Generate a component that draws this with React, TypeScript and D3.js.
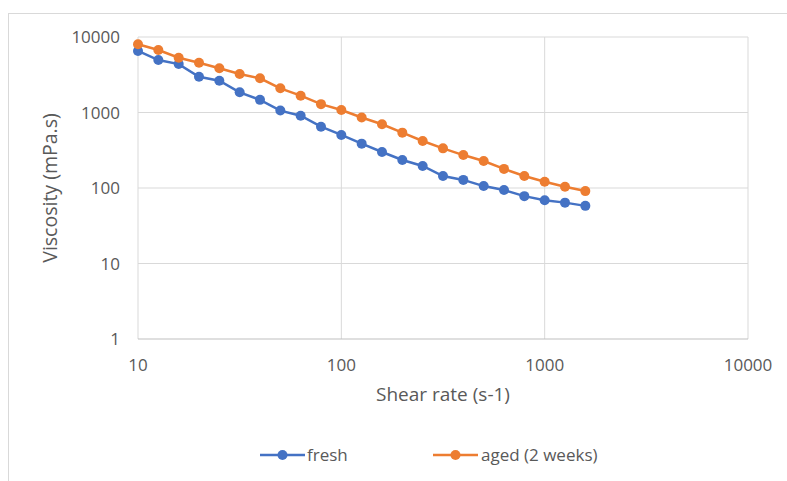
import React from "react";
import * as d3 from "d3";

const shearRate: number[] = [10, 12.59, 15.85, 19.95, 25.12, 31.62, 39.81, 50.12, 63.1, 79.43, 100, 125.9, 158.5, 199.5, 251.2, 316.2, 398.1, 501.2, 631, 794.3, 1000, 1259, 1585];
const fresh: number[] = [6530, 4950, 4380, 2980, 2640, 1850, 1470, 1060, 907, 649, 504, 387, 300, 235, 196, 144, 128, 106, 94, 78, 69, 64, 58];
const aged: number[] = [8000, 6730, 5320, 4570, 3850, 3230, 2840, 2090, 1670, 1290, 1080, 858, 698, 541, 419, 335, 273, 228, 179, 144, 121, 104, 91];
const xTicks: number[] = [10, 100, 1000, 10000];
const yTicks: number[] = [1, 10, 100, 1000, 10000];
const seriesNames: string[] = ["fresh", "aged (2 weeks)"];
const seriesColors: string[] = ["#4472C4", "#ED7D31"];

export default function App() {
  const W = 787, H = 481;
  const left = 138, right = 748, top = 37, bottom = 339;
  const x = d3.scaleLog().domain([10, 10000]).range([left, right]);
  const y = d3.scaleLog().domain([1, 10000]).range([bottom, top]);
  const line = d3.line<[number, number]>().x(d => x(d[0])).y(d => y(d[1]));
  const series = [fresh, aged];
  const font = "'Open Sans', sans-serif";
  const legendItems = [
    { x0: 260, tx: 307 },
    { x0: 433, tx: 481 },
  ];
  return (
    <svg width={W} height={H} style={{ position: "absolute", left: 0, top: 0 }} fontFamily={font}>
      <rect x={0} y={0} width={W} height={H} fill="#fff" />
      <rect x={8.5} y={13.5} width={800} height={600} fill="none" stroke="#d9d9d9" />
      {xTicks.map(t => (
        <line key={"gx" + t} x1={x(t)} x2={x(t)} y1={top} y2={bottom} stroke="#d9d9d9" strokeWidth={1} />
      ))}
      {yTicks.map(t => (
        <line key={"gy" + t} x1={left} x2={right} y1={y(t)} y2={y(t)} stroke={t === 1 ? "#bfbfbf" : "#d9d9d9"} strokeWidth={1} />
      ))}
      {xTicks.map(t => (
        <text key={"tx" + t} x={x(t)} y={bottom + 32} textAnchor="middle" fontSize={17} fill="#595959">{t}</text>
      ))}
      {yTicks.map(t => (
        <text key={"ty" + t} x={left - 18} y={y(t) + 6} textAnchor="end" fontSize={17} fill="#595959">{t}</text>
      ))}
      <text x={443} y={401} textAnchor="middle" fontSize={19} fill="#595959">Shear rate (s-1)</text>
      <text transform={`translate(57,188) rotate(-90)`} textAnchor="middle" fontSize={19.5} fill="#595959">Viscosity (mPa.s)</text>
      {series.map((s, i) => {
        const pts: [number, number][] = s.map((v, j) => [shearRate[j], v]);
        return (
          <g key={"s" + i}>
            <path d={line(pts) || ""} fill="none" stroke={seriesColors[i]} strokeWidth={2.5} />
            {pts.map((p, j) => (
              <circle key={j} cx={x(p[0])} cy={y(p[1])} r={5} fill={seriesColors[i]} />
            ))}
          </g>
        );
      })}
      {legendItems.map((l, i) => (
        <g key={"l" + i}>
          <line x1={l.x0} x2={l.x0 + 45} y1={455} y2={455} stroke={seriesColors[i]} strokeWidth={2.5} />
          <circle cx={l.x0 + 22.5} cy={455} r={5} fill={seriesColors[i]} />
          <text x={l.tx} y={461} fontSize={17} fill="#595959">{seriesNames[i]}</text>
        </g>
      ))}
    </svg>
  );
}
